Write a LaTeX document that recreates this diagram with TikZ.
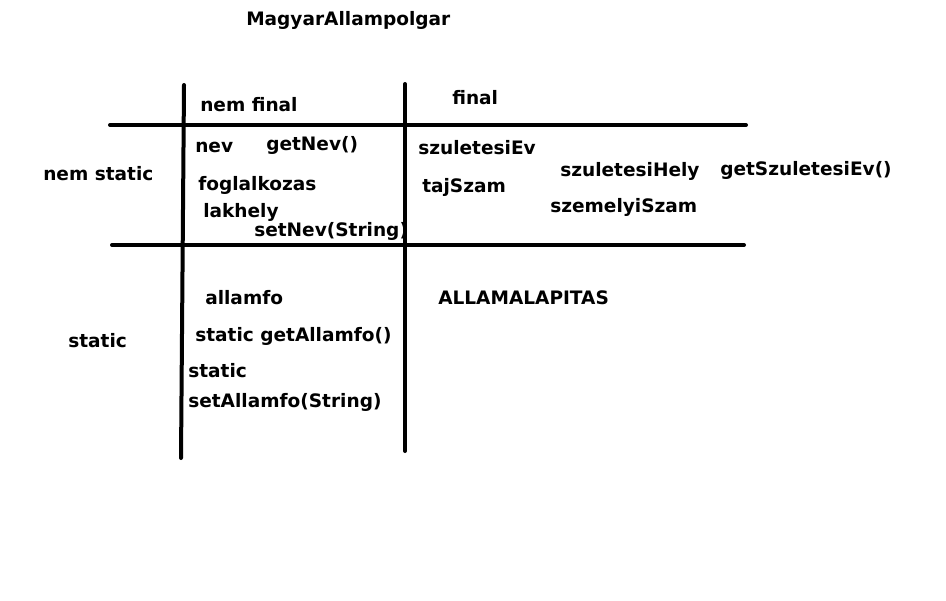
\documentclass[tikz,border=0pt]{standalone}
\usepackage{fontspec}
\setmainfont{DejaVu Sans}
\usepackage{tikz}

\begin{document}
\begin{tikzpicture}[x=0.75pt, y=-0.75pt, every node/.style={anchor=west, inner sep=0pt, font=\fontsize{13.9}{16}\selectfont\bfseries},%
        rule/.style={line width=3pt, line cap=round}]
        \useasboundingbox (0,0) rectangle (946,600);
        % grid
        \draw[rule] (110,125) -- (746,125);
        \draw[rule] (112,245) -- (744,245);
        \draw[rule] (184,85) -- (181,458);
        \draw[rule] (405,84) -- (405,451);
        % header
        \node (title) at (246,20) {MagyarAllampolgar};
        \node (nemfinal) at (200,105) {nem final};
        \node (final) at (452,98) {final};
        \node (nemstatic) at (43,174) {nem static};
        \node (static) at (68,341) {static};
        % nem static, nem final
        \node (nev) at (195,147) {nev};
        \node (getnev) at (266,145) {getNev()};
        \node (foglalkozas) at (198,185) {foglalkozas};
        \node (lakhely) at (203,212) {lakhely};
        \node (setnev) at (254,231) {setNev(String)};
        % nem static, final
        \node (szulev) at (418,148) {szuletesiEv};
        \node (taj) at (422,187) {tajSzam};
        \node (szulhely) at (560,171) {szuletesiHely};
        \node (getszulev) at (720,170) {getSzuletesiEv()};
        \node (szemelyi) at (550,207) {szemelyiSzam};
        % static
        \node (allamfo) at (205,298) {allamfo};
        \node (getallamfo) at (195,336) {static getAllamfo()};
        \node (setstatic) at (188,371) {static};
        \node (setallamfo) at (188,402) {setAllamfo(String)};
        \node (alapitas) at (438,298) {ALLAMALAPITAS};
    \end{tikzpicture}
\end{document}
